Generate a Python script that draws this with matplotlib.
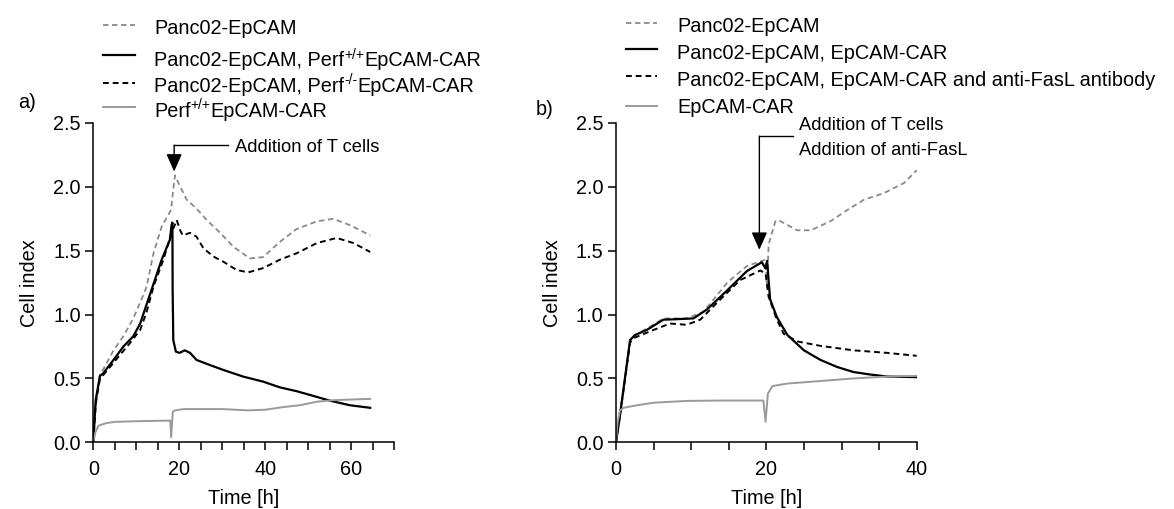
import matplotlib
matplotlib.use("Agg")
import matplotlib.pyplot as plt
from matplotlib.lines import Line2D
from matplotlib.ticker import MultipleLocator, FormatStrFormatter

plt.rcParams['font.family'] = ['Liberation Sans', 'DejaVu Sans']

# ---------------- panel a) data: time [h] / cell index ----------------
a_panc_t = [0, 0.3, 0.8, 1.6, 2.3, 4.7, 7.0, 9.3, 11.6, 12.4, 14.0, 15.9, 18.1, 18.5,
            19.0, 19.8, 21.7, 24.0, 26.4, 29.5, 32.6, 36.4, 39.5, 43.4, 47.3, 52.0,
            55.8, 59.7, 64.4]
a_panc_v = [0.0, 0.18, 0.36, 0.54, 0.57, 0.72, 0.83, 0.97, 1.15, 1.22, 1.48, 1.69, 1.82, 1.95,
            2.09, 2.03, 1.90, 1.83, 1.74, 1.64, 1.53, 1.44, 1.45, 1.57, 1.67, 1.73,
            1.75, 1.70, 1.62]

a_perf_wt_t = [0, 0.3, 0.55, 1.55, 2.3, 4.7, 7.0, 9.3, 10.9, 12.8, 14.3, 15.9, 17.8, 18.2,
               18.4, 18.45, 18.6, 19.2, 20.0, 21.3, 22.5, 24.0, 27.1, 30.2, 34.9, 39.5,
               43.4, 47.3, 51.2, 55.0, 59.7, 64.4]
a_perf_wt_v = [0.0, 0.18, 0.33, 0.52, 0.54, 0.645, 0.75, 0.83, 0.93, 1.12, 1.27, 1.43, 1.585, 1.70,
               1.72, 1.20, 0.80, 0.71, 0.70, 0.72, 0.70, 0.645, 0.605, 0.567, 0.514, 0.475,
               0.43, 0.40, 0.363, 0.326, 0.29, 0.27]

a_perf_ko_t = [0, 0.3, 0.6, 1.5, 2.4, 3.9, 6.2, 8.5, 10.9, 12.4, 14.0, 16.3, 18.2, 19.4,
               20.2, 20.8, 22.5, 24.0, 25.6, 27.9, 30.2, 33.3, 36.0, 39.5, 43.4, 47.3,
               52.0, 56.6, 60.5, 64.4]
a_perf_ko_v = [0.0, 0.17, 0.31, 0.49, 0.53, 0.59, 0.684, 0.776, 0.88, 1.02, 1.22, 1.43, 1.64, 1.74,
               1.66, 1.62, 1.64, 1.61, 1.52, 1.455, 1.415, 1.35, 1.33, 1.364, 1.43, 1.48,
               1.56, 1.60, 1.56, 1.49]

a_car_t = [0, 0.5, 1.2, 3.0, 5.0, 10.0, 17.9, 18.1, 18.5, 19.0, 21.0, 30.0, 36.0, 40.0,
           44.0, 48.0, 52.0, 56.0, 60.0, 64.4]
a_car_v = [0.0, 0.08, 0.13, 0.15, 0.16, 0.165, 0.17, 0.04, 0.24, 0.25, 0.26, 0.26, 0.25, 0.255,
           0.275, 0.29, 0.318, 0.33, 0.335, 0.34]

# ---------------- panel b) data ----------------
b_panc_t = [0, 0.5, 0.98, 1.87, 2.53, 4.1, 6.3, 9.4, 11.6, 14.8, 17.4, 19.9, 20.1, 20.3,
            21.2, 21.6, 24.1, 25.9, 28.5, 30.8, 33.0, 35.6, 38.3, 40.0]
b_panc_v = [0.0, 0.2, 0.41, 0.80, 0.84, 0.89, 0.97, 0.97, 1.02, 1.25, 1.38, 1.43, 1.20, 1.55,
            1.73, 1.74, 1.66, 1.66, 1.73, 1.82, 1.90, 1.95, 2.03, 2.13]

b_car_t = [0, 0.5, 0.98, 1.87, 2.53, 4.1, 6.3, 8.1, 10.3, 12.1, 14.8, 17.4, 19.4, 19.9,
           20.1, 20.5, 21.4, 22.8, 25.0, 27.2, 29.4, 31.6, 33.9, 36.1, 40.0]
b_car_v = [0.0, 0.2, 0.41, 0.80, 0.84, 0.88, 0.96, 0.964, 0.97, 1.04, 1.19, 1.34, 1.41, 1.36,
           1.42, 1.12, 0.98, 0.84, 0.72, 0.645, 0.59, 0.55, 0.53, 0.515, 0.51]

b_fasl_t = [0, 0.5, 0.98, 1.87, 2.3, 5.0, 7.2, 9.4, 11.2, 13.9, 16.5, 19.2, 19.9, 20.3,
            21.4, 22.3, 24.1, 27.2, 31.6, 36.1, 40.0]
b_fasl_v = [0.0, 0.2, 0.40, 0.78, 0.815, 0.88, 0.93, 0.92, 0.96, 1.12, 1.27, 1.345, 1.32, 1.14,
            0.96, 0.85, 0.79, 0.755, 0.72, 0.70, 0.677]

b_tcell_t = [0, 0.2, 0.53, 1.0, 2.8, 5.0, 9.4, 13.9, 19.6, 19.9, 20.2, 20.8, 22.8, 27.2,
             31.6, 36.1, 40.0]
b_tcell_v = [0.0, 0.15, 0.25, 0.27, 0.29, 0.31, 0.324, 0.327, 0.327, 0.16, 0.38, 0.44, 0.46, 0.48,
             0.50, 0.515, 0.52]

y_ticks = [0.0, 0.5, 1.0, 1.5, 2.0, 2.5]

# legend labels: list of (text, superscript?) pieces
legend_a = [[('Panc02-EpCAM', False)],
            [('Panc02-EpCAM, Perf', False), ('+/+', True), ('EpCAM-CAR', False)],
            [('Panc02-EpCAM, Perf', False), ('-/-', True), ('EpCAM-CAR', False)],
            [('Perf', False), ('+/+', True), ('EpCAM-CAR', False)]]
legend_b = [[('Panc02-EpCAM', False)],
            [('Panc02-EpCAM, EpCAM-CAR', False)],
            [('Panc02-EpCAM, EpCAM-CAR and anti-FasL antibody', False)],
            [('EpCAM-CAR', False)]]

W, H = 1174, 509
fig = plt.figure(figsize=(W / 100, H / 100), dpi=100)

GRAY_D = '#8a8a8a'
GRAY_S = '#9a9a9a'
styles = [dict(color=GRAY_D, lw=1.3, ls=(0, (3, 2))),
          dict(color='black', lw=1.6, ls='-'),
          dict(color='black', lw=1.4, ls=(0, (3, 2))),
          dict(color=GRAY_S, lw=1.4, ls='-')]

FS = 14.3
FS_SUP = 10
FS_NOTE = 13.2


def px_axes(x0, x1, y0=123, y1=442.3):
    return fig.add_axes([x0 / W, 1 - y1 / H, (x1 - x0) / W, (y1 - y0) / H])


def style_axes(ax, xmax, xlabels_step):
    ax.set_xlim(0, xmax)
    ax.set_ylim(0, 2.5)
    for s in ('top', 'right'):
        ax.spines[s].set_visible(False)
    for s in ('left', 'bottom'):
        ax.spines[s].set_linewidth(1.1)
    ax.set_yticks(y_ticks)
    ax.yaxis.set_major_formatter(FormatStrFormatter('%.1f'))
    ax.xaxis.set_major_locator(MultipleLocator(xlabels_step))
    ax.xaxis.set_minor_locator(MultipleLocator(5))
    ax.tick_params(axis='both', which='both', direction='out', width=1.1,
                   length=6, labelsize=FS)
    ax.tick_params(axis='x', pad=7)
    ax.tick_params(axis='y', pad=3)
    ax.set_ylabel('Cell index', fontsize=FS)
    ax.set_xlabel('Time [h]', fontsize=FS)
    ax.yaxis.set_label_coords(-0.212, 0.5)
    ax.xaxis.set_label_coords(0.5, -0.175)
    ax.xaxis.label.set_va('center')
    ax.yaxis.label.set_va('center')


def rich_text(ax, x_px, base_px, pieces):
    """Write text pieces one after another, raising superscript pieces."""
    prev = None
    for txt, sup in pieces:
        y = 1 - (base_px - (7.5 if sup else 0)) / H
        size = FS_SUP if sup else FS
        if prev is None:
            prev = ax.annotate(txt, xy=(x_px / W, y), xycoords='figure fraction',
                               fontsize=size, va='baseline', ha='left',
                               annotation_clip=False)
        else:
            prev = ax.annotate(txt, xy=(1, y), xycoords=(prev, fig.transFigure),
                               fontsize=size, va='baseline', ha='left',
                               annotation_clip=False)


def draw_legend(ax, labels, line_x0, line_x1, text_x, line_ys, base_ys):
    for st, lab, ly, by in zip(styles, labels, line_ys, base_ys):
        fig.add_artist(Line2D([line_x0 / W, line_x1 / W], [1 - ly / H, 1 - ly / H],
                              transform=fig.transFigure, **st))
        rich_text(ax, text_x, by, lab)


ARROW = dict(arrowstyle='-|>,head_length=0.72,head_width=0.32',
             mutation_scale=15, color='black', lw=1.0, shrinkA=0, shrinkB=0)

# ---------------- panel a ----------------
ax_a = px_axes(93.3, 394.3)
ax_a.plot(a_panc_t, a_panc_v, **styles[0])
ax_a.plot(a_perf_ko_t, a_perf_ko_v, **styles[2])
ax_a.plot(a_perf_wt_t, a_perf_wt_v, **styles[1])
ax_a.plot(a_car_t, a_car_v, **styles[3])
style_axes(ax_a, 70, 20)

ax_a.plot([18.8, 31.4], [2.325, 2.325], color='black', lw=1.0, clip_on=False)
ax_a.annotate('', xy=(18.8, 2.12), xytext=(18.8, 2.327), arrowprops=ARROW)
ax_a.text(32.95, 2.273, 'Addition of T cells', fontsize=FS_NOTE, va='baseline', ha='left')

fig.text(18 / W, 1 - 107.5 / H, 'a)', fontsize=FS, va='baseline', ha='left')
draw_legend(ax_a, legend_a, 103, 135, 154, [25, 55, 83, 107], [33.5, 66.5, 91.7, 116.7])

# ---------------- panel b ----------------
ax_b = px_axes(616, 916.7)
ax_b.plot(b_panc_t, b_panc_v, **styles[0])
ax_b.plot(b_fasl_t, b_fasl_v, **styles[2])
ax_b.plot(b_car_t, b_car_v, **styles[1])
ax_b.plot(b_tcell_t, b_tcell_v, **styles[3])
style_axes(ax_b, 40, 20)

ax_b.plot([19.07, 23.56], [2.395, 2.395], color='black', lw=1.0, clip_on=False)
ax_b.annotate('', xy=(19.07, 1.507), xytext=(19.07, 2.397), arrowprops=ARROW)
ax_b.text(24.4, 2.449, 'Addition of T cells', fontsize=FS_NOTE, va='baseline',
          ha='left', clip_on=False)
ax_b.text(24.4, 2.253, 'Addition of anti-FasL', fontsize=FS_NOTE, va='baseline',
          ha='left', clip_on=False)

fig.text(536 / W, 1 - 115 / H, 'b)', fontsize=FS, va='baseline', ha='left')
draw_legend(ax_b, legend_b, 626, 657, 677, [23, 49, 76, 106], [31.7, 59.3, 86, 113.3])

fig.savefig('out.png', dpi=100)
